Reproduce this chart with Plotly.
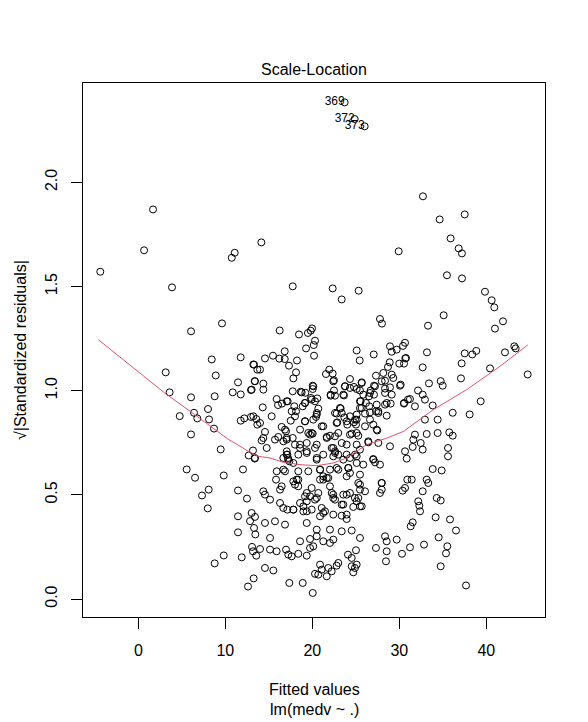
import plotly.graph_objects as go

# ---- Data (fitted value, sqrt|standardized residual|) ----
# labelled extreme observations
obs_labelled = [(23.72, 2.384), (24.87, 2.304), (26.02, 2.269)]
label_names = ["369", "372", "373"]

obs_top = [(32.72, 1.933), (1.69, 1.870), (34.64, 1.822), (37.52, 1.846), (35.90, 1.731),
           (36.83, 1.683), (37.20, 1.659), (29.93, 1.669), (0.66, 1.674), (11.08, 1.662),
           (10.74, 1.638), (14.14, 1.712)]

obs_left_mid = [(-4.37, 1.571), (3.87, 1.496), (9.62, 1.323), (6.06, 1.285), (8.44, 1.150),
                (11.77, 1.160), (13.22, 1.126), (8.90, 1.073), (3.15, 1.088), (11.46, 1.040),
                (13.38, 1.046), (12.95, 1.003), (10.85, 0.992), (11.77, 0.982), (3.60, 0.992),
                (6.06, 0.968), (8.78, 0.973), (8.01, 0.912), (6.40, 0.894), (4.76, 0.878),
                (6.78, 0.867), (8.13, 0.862), (8.70, 0.818), (6.06, 0.790), (11.77, 0.856),
                (12.18, 0.867), (12.95, 0.874), (13.56, 0.864), (13.68, 0.837), (13.68, 1.101)]

obs_center_mid = [(17.75, 1.501), (22.34, 1.491), (25.33, 1.480), (23.38, 1.438), (27.78, 1.344),
                  (28.01, 1.322), (16.25, 1.289), (18.47, 1.270), (19.50, 1.277), (19.82, 1.288),
                  (19.97, 1.299), (20.31, 1.240), (20.16, 1.219), (19.28, 1.203), (20.20, 1.168),
                  (16.83, 1.189), (15.48, 1.168), (14.56, 1.155), (16.21, 1.154), (16.83, 1.152),
                  (18.24, 1.145), (13.30, 1.125), (13.99, 1.101), (17.32, 1.120), (18.13, 1.088),
                  (17.82, 1.059), (25.10, 1.193), (25.45, 1.145), (27.06, 1.174), (28.93, 1.213),
                  (29.70, 1.197), (30.43, 1.215), (30.66, 1.230), (29.13, 1.187), (28.90, 1.136),
                  (30.69, 1.155), (30.00, 1.130), (28.70, 1.114), (30.54, 1.130), (21.95, 1.101),
                  (21.57, 1.080), (22.34, 1.082), (22.49, 1.050), (24.33, 1.056), (25.68, 1.040),
                  (27.32, 1.072), (28.16, 1.085), (29.13, 1.077), (28.36, 1.048), (29.31, 1.061),
                  (30.08, 1.024), (28.36, 1.010), (28.93, 1.016), (29.13, 0.981), (27.09, 1.024),
                  (26.71, 1.001), (27.09, 0.981), (26.52, 0.973), (20.05, 1.024), (20.05, 1.008),
                  (23.76, 1.021), (24.79, 1.018), (25.10, 1.008), (22.49, 1.001), (22.11, 0.976),
                  (23.64, 0.977), (13.41, 1.045), (14.37, 1.034), (14.37, 1.005), (13.03, 1.005),
                  (17.75, 0.997), (18.67, 0.995), (19.20, 0.990), (19.85, 0.965), (20.57, 0.963),
                  (15.90, 0.960), (16.52, 0.938), (16.06, 0.931), (17.17, 0.949), (14.30, 0.920),
                  (19.16, 0.941), (19.93, 0.957), (18.90, 0.925), (17.93, 0.925), (18.13, 0.901),
                  (17.63, 0.901), (18.01, 0.877), (20.69, 0.914), (20.51, 0.893), (20.43, 0.874),
                  (20.11, 0.861), (19.16, 0.853), (17.52, 0.856), (15.33, 0.877), (13.22, 0.877),
                  (13.99, 0.845), (14.56, 0.802), (16.48, 0.826), (16.98, 0.805), (16.09, 0.778),
                  (21.26, 0.829), (22.80, 0.890), (23.26, 0.915), (23.68, 0.872), (24.33, 0.877),
                  (24.79, 0.848), (25.10, 0.861), (25.02, 0.837), (22.87, 0.848), (24.02, 0.837),
                  (25.56, 0.949), (25.48, 0.917), (26.17, 0.941), (26.55, 0.925), (26.06, 0.890),
                  (26.63, 0.896), (27.32, 0.901), (27.59, 0.893), (26.63, 0.861), (27.01, 0.837),
                  (27.47, 0.809), (28.55, 0.880), (28.36, 0.933), (29.01, 0.938), (30.54, 0.938),
                  (31.00, 0.957), (25.86, 0.981), (25.48, 1.001), (22.61, 0.976), (19.74, 0.789),
                  (19.54, 0.797), (20.05, 0.794), (22.03, 0.784), (22.99, 0.797), (24.53, 0.794),
                  (25.29, 0.784), (17.75, 0.773), (14.37, 0.773), (21.66, 0.778)]

obs_right_mid = [(35.48, 1.554), (37.21, 1.539), (39.85, 1.475), (40.62, 1.434), (40.92, 1.400),
                 (41.92, 1.333), (41.00, 1.298), (35.10, 1.362), (33.30, 1.312), (30.77, 1.157),
                 (33.18, 1.184), (32.69, 1.112), (37.52, 1.179), (38.39, 1.174), (38.85, 1.191),
                 (37.17, 1.131), (42.15, 1.184), (43.22, 1.213), (43.38, 1.203), (40.43, 1.107),
                 (44.76, 1.078), (37.09, 1.059), (33.41, 1.035), (34.76, 1.046), (34.99, 1.024),
                 (30.16, 1.029), (32.15, 1.001), (32.69, 0.981), (32.95, 0.957), (31.23, 0.960),
                 (30.54, 0.941), (31.80, 0.925), (33.84, 0.929), (39.36, 0.949), (36.14, 0.894),
                 (38.09, 0.886), (32.95, 0.861), (34.41, 0.861), (31.80, 0.789), (33.15, 0.792),
                 (34.41, 0.797), (35.75, 0.800), (36.14, 0.784)]

obs_left_low = [(9.47, 0.718), (13.18, 0.713), (12.69, 0.689), (13.38, 0.674), (5.56, 0.622),
                (6.52, 0.582), (9.82, 0.593), (12.03, 0.622), (8.09, 0.525), (7.32, 0.497),
                (11.46, 0.521), (12.49, 0.482), (7.98, 0.435), (11.46, 0.397), (13.03, 0.413),
                (12.84, 0.374), (13.30, 0.341), (13.45, 0.310), (11.46, 0.320), (13.07, 0.250),
                (13.18, 0.229), (13.56, 0.208), (9.82, 0.209), (8.78, 0.171), (11.89, 0.200),
                (13.26, 0.099), (12.61, 0.060)]

obs_center_low = [(14.18, 0.761), (15.71, 0.765), (16.67, 0.757), (17.06, 0.773), (18.59, 0.741),
                  (20.51, 0.741), (23.95, 0.741), (25.10, 0.741), (26.44, 0.752), (28.93, 0.733),
                  (13.41, 0.677), (14.76, 0.725), (17.06, 0.709), (17.13, 0.693), (17.21, 0.677),
                  (17.36, 0.661), (17.82, 0.653), (18.39, 0.693), (19.36, 0.701), (20.31, 0.725),
                  (20.51, 0.677), (21.26, 0.693), (22.41, 0.725), (22.61, 0.701), (22.99, 0.693),
                  (23.56, 0.669), (24.33, 0.677), (25.10, 0.685), (25.86, 0.645), (27.01, 0.672),
                  (27.21, 0.656), (15.91, 0.613), (16.86, 0.613), (15.83, 0.573), (17.82, 0.565),
                  (18.39, 0.573), (18.01, 0.549), (19.54, 0.613), (20.89, 0.621), (22.03, 0.621),
                  (22.99, 0.621), (24.14, 0.629), (24.33, 0.605), (20.89, 0.573), (21.26, 0.589),
                  (21.84, 0.581), (25.29, 0.557), (25.48, 0.525), (26.06, 0.517), (27.98, 0.557),
                  (27.78, 0.509), (16.29, 0.525), (14.37, 0.517), (14.56, 0.501), (15.14, 0.477),
                  (19.36, 0.509), (19.74, 0.493), (20.69, 0.509), (22.23, 0.509), (22.41, 0.485),
                  (23.56, 0.501), (24.33, 0.509), (24.90, 0.485), (25.10, 0.469), (25.48, 0.445),
                  (16.29, 0.461), (17.13, 0.429), (17.82, 0.429), (18.59, 0.461), (18.97, 0.445),
                  (19.36, 0.421), (19.93, 0.429), (20.31, 0.477), (21.08, 0.437), (21.46, 0.421),
                  (20.89, 0.397), (22.41, 0.405), (23.38, 0.400), (23.95, 0.384), (23.56, 0.453),
                  (24.71, 0.442), (13.41, 0.394), (14.56, 0.365), (15.71, 0.373), (16.86, 0.357),
                  (19.36, 0.365), (20.51, 0.333), (22.03, 0.333), (23.38, 0.325), (24.53, 0.329),
                  (15.14, 0.293), (18.59, 0.277), (19.74, 0.288), (20.51, 0.301), (21.26, 0.277),
                  (22.03, 0.269), (22.41, 0.285), (25.48, 0.293), (28.36, 0.301), (28.55, 0.277),
                  (29.70, 0.285), (13.99, 0.240), (15.14, 0.237), (15.90, 0.229), (16.98, 0.237),
                  (17.24, 0.213), (17.63, 0.205), (18.39, 0.217), (19.36, 0.208), (19.74, 0.245),
                  (20.11, 0.253), (24.10, 0.213), (24.53, 0.197), (25.02, 0.234), (27.32, 0.245),
                  (28.55, 0.229), (28.47, 0.181), (14.56, 0.149), (15.52, 0.137), (20.31, 0.121),
                  (20.89, 0.165), (21.08, 0.141), (21.66, 0.109), (21.84, 0.149), (22.23, 0.133),
                  (22.80, 0.160), (22.99, 0.173), (20.69, 0.117), (24.53, 0.157), (24.90, 0.149),
                  (24.71, 0.128), (25.10, 0.165), (17.36, 0.077), (18.90, 0.077), (20.05, 0.029)]

obs_center_dense = [(18.78, 0.992), (20.11, 1.021), (22.41, 1.045), (23.76, 1.021), (24.33, 1.013),
                    (25.68, 1.037), (27.21, 1.021), (27.98, 1.045), (22.11, 0.981), (23.56, 0.981),
                    (26.63, 0.989), (28.36, 0.989), (17.06, 0.949), (19.16, 0.941), (20.31, 0.949),
                    (25.48, 0.949), (27.40, 0.933), (28.55, 0.941), (23.18, 0.917), (22.61, 0.893),
                    (23.38, 0.893), (25.10, 0.885), (25.68, 0.917), (27.59, 0.901), (19.16, 0.853),
                    (20.51, 0.885), (21.08, 0.829), (22.80, 0.845), (23.95, 0.853), (24.91, 0.861),
                    (26.06, 0.829), (27.40, 0.813), (16.86, 0.813), (18.59, 0.813), (19.93, 0.797),
                    (17.06, 0.765), (18.01, 0.741), (19.36, 0.749), (18.59, 0.725), (21.66, 0.773),
                    (22.61, 0.781), (23.38, 0.749), (24.33, 0.789), (25.10, 0.797), (26.44, 0.757),
                    (27.59, 0.749), (17.06, 0.693), (17.24, 0.669), (16.67, 0.677), (19.36, 0.709),
                    (20.51, 0.669), (22.23, 0.725), (22.61, 0.709), (22.41, 0.685), (23.95, 0.693),
                    (24.91, 0.693), (25.48, 0.717), (27.01, 0.669), (27.78, 0.645), (22.80, 0.629),
                    (24.14, 0.629), (25.10, 0.653), (16.67, 0.621), (18.39, 0.613), (20.89, 0.621),
                    (21.66, 0.581), (21.26, 0.573), (23.95, 0.589), (25.48, 0.597), (18.20, 0.573),
                    (18.39, 0.541), (16.48, 0.541), (19.93, 0.533), (22.03, 0.541), (25.48, 0.549),
                    (27.98, 0.557), (27.98, 0.525), (19.16, 0.493), (19.36, 0.469), (20.51, 0.485),
                    (22.41, 0.501), (22.61, 0.477), (23.95, 0.501), (25.29, 0.485), (23.38, 0.453),
                    (25.68, 0.445), (16.67, 0.437), (17.83, 0.429), (18.97, 0.421), (21.26, 0.413),
                    (23.95, 0.405)]

obs_right_low = [(31.61, 0.765), (32.46, 0.749), (31.54, 0.730), (32.69, 0.717), (35.60, 0.725),
                 (35.60, 0.685), (30.66, 0.709), (30.85, 0.674), (33.84, 0.624), (34.87, 0.617),
                 (30.92, 0.573), (31.43, 0.573), (33.15, 0.573), (33.33, 0.557), (30.66, 0.533),
                 (30.39, 0.520), (32.69, 0.517), (34.30, 0.485), (34.76, 0.473), (32.18, 0.469),
                 (32.30, 0.448), (32.38, 0.421), (34.18, 0.392), (35.83, 0.382), (36.52, 0.329),
                 (31.54, 0.368), (31.31, 0.349), (34.53, 0.296), (35.52, 0.253), (35.37, 0.219),
                 (32.84, 0.261), (31.23, 0.248), (30.31, 0.217), (34.76, 0.157), (37.67, 0.065)]

# lowess smooth (red line)
lowess_x = [-4.6, -0.8, 3.03, 6.48, 10.23, 12.84, 13.76, 15.14, 16.67, 18.59, 20.51, 22.41,
            23.95, 26.25, 28.55, 30.5, 33.91, 37.75, 41.57, 44.76]
lowess_y = [1.245, 1.117, 0.989, 0.885, 0.770, 0.704, 0.685, 0.677, 0.656, 0.645, 0.640, 0.653,
            0.677, 0.741, 0.772, 0.805, 0.909, 1.005, 1.117, 1.219]

x_ticks = [0, 10, 20, 30, 40]
y_ticks = [0.0, 0.5, 1.0, 1.5, 2.0]
y_tick_labels = ["0.0", "0.5", "1.0", "1.5", "2.0"]

all_obs = (obs_labelled + obs_top + obs_left_mid + obs_center_mid + obs_right_mid +
           obs_left_low + obs_center_low + obs_center_dense + obs_right_low)
fitted = [p[0] for p in all_obs]
sqrt_std_resid = [p[1] for p in all_obs]

FONT = "Liberation Sans, Arial, Helvetica, sans-serif"

fig = go.Figure()
fig.add_trace(go.Scatter(
    x=fitted, y=sqrt_std_resid, mode="markers",
    marker=dict(symbol="circle-open", size=7, color="black", line=dict(width=1, color="black")),
    hoverinfo="skip"))
fig.add_trace(go.Scatter(
    x=lowess_x, y=lowess_y, mode="lines",
    line=dict(color="#DF536B", width=1), hoverinfo="skip"))
fig.add_trace(go.Scatter(
    x=[p[0] for p in obs_labelled], y=[p[1] for p in obs_labelled],
    mode="text", text=label_names, textposition="middle left",
    textfont=dict(family=FONT, size=12, color="black"), hoverinfo="skip"))

fig.update_layout(
    width=588, height=722,
    margin=dict(l=83, r=43, t=83, b=105, pad=0),
    paper_bgcolor="white", plot_bgcolor="white",
    showlegend=False,
    font=dict(family=FONT, size=16, color="black"),
    annotations=[
        dict(text="Scale-Location", x=0.5, y=1, xref="paper", yref="paper",
             xanchor="center", yanchor="middle", yshift=14, showarrow=False,
             font=dict(family=FONT, size=16, color="black")),
        dict(text="Fitted values", x=0.5, y=0, xref="paper", yref="paper",
             xanchor="center", yanchor="middle", yshift=-72, showarrow=False,
             font=dict(family=FONT, size=16, color="black")),
        dict(text="lm(medv ~ .)", x=0.5, y=0, xref="paper", yref="paper",
             xanchor="center", yanchor="middle", yshift=-92, showarrow=False,
             font=dict(family=FONT, size=16, color="black")),
        dict(text="√|Standardized residuals|", x=0, y=0.5, xref="paper", yref="paper",
             xanchor="center", yanchor="middle", xshift=-63, textangle=-90, showarrow=False,
             font=dict(family=FONT, size=16, color="black")),
    ],
)
fig.update_xaxes(
    range=[-6.36, 46.75], tickvals=x_ticks, ticks="outside", ticklen=11, tickwidth=1,
    tickcolor="black", showline=True, linecolor="black", linewidth=1, mirror=True,
    showgrid=False, zeroline=False, ticklabelstandoff=8,
    tickfont=dict(family=FONT, size=16, color="black"))
fig.update_yaxes(
    range=[-0.0864, 2.477], tickvals=y_ticks, ticktext=y_tick_labels, tickangle=-90,
    ticks="outside", ticklen=11, tickwidth=1, tickcolor="black", showline=True,
    linecolor="black", linewidth=1, mirror=True, showgrid=False, zeroline=False,
    ticklabelstandoff=8, tickfont=dict(family=FONT, size=16, color="black"))

# remove the default page margin so the 588x722 figure fills the window exactly
fig.write_html("out.html",
               config={"displayModeBar": False, "staticPlot": True},
               post_script="document.body.style.margin='0px';"
                           "document.body.style.overflow='hidden';")
